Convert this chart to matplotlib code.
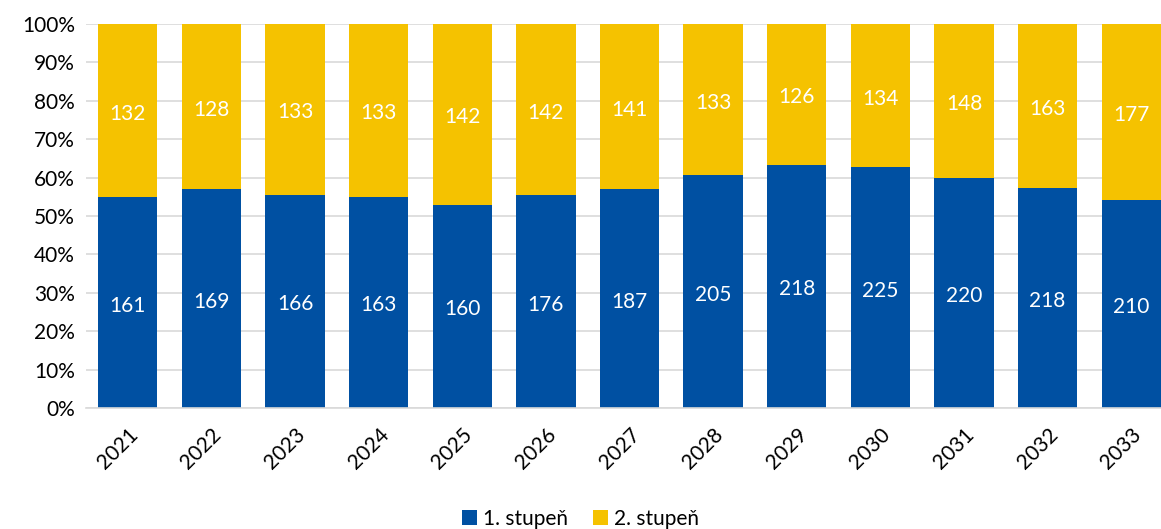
import matplotlib
matplotlib.use("Agg")
import matplotlib.pyplot as plt
import numpy as np

plt.rcParams["font.family"] = ["Lato", "DejaVu Sans"]

years = ["2021", "2022", "2023", "2024", "2025", "2026", "2027",
         "2028", "2029", "2030", "2031", "2032", "2033"]
stupen1 = [161, 169, 166, 163, 160, 176, 187, 205, 218, 225, 220, 218, 210]
stupen2 = [132, 128, 133, 133, 142, 142, 141, 133, 126, 134, 148, 163, 177]

C_BLUE = "#0050A2"
C_YELLOW = "#F5C200"

s1 = np.array(stupen1, dtype=float)
s2 = np.array(stupen2, dtype=float)
tot = s1 + s2
p1 = s1 / tot * 100
p2 = s2 / tot * 100
x = np.arange(len(years))

fig = plt.figure(figsize=(11.61, 5.29), dpi=100)
ax = fig.add_axes([86 / 1161, 1 - 408 / 529, 1087 / 1161, 384 / 529])

b1 = ax.bar(x, p1, width=0.71, color=C_BLUE, label="1. stupeň", zorder=2)
b2 = ax.bar(x, p2, bottom=p1, width=0.71, color=C_YELLOW, label="2. stupeň", zorder=2)

for xi, a, b, va, vb in zip(x, p1, p2, stupen1, stupen2):
    ax.text(xi, a / 2 - 0.8, f"{va}", ha="center", va="center", color="white", fontsize=15)
    ax.text(xi, a + b / 2 - 0.8, f"{vb}", ha="center", va="center", color="white", fontsize=15)

ax.set_xlim(-0.5, len(years) - 0.5)
ax.set_ylim(0, 100)
ax.set_yticks(np.arange(0, 101, 10))
ax.set_yticklabels([f"{v}%" for v in range(0, 101, 10)], fontsize=15)
ax.set_xticks(x)
ax.set_xticklabels(years, rotation=45, ha="right", rotation_mode="anchor", fontsize=15)
ax.tick_params(axis="both", length=0, pad=8)
ax.tick_params(axis="x", pad=12)
ax.grid(axis="y", color="#D9D9D9", lw=1.2, zorder=0)
for s in ["top", "right", "left"]:
    ax.spines[s].set_visible(False)
ax.spines["bottom"].set_color("#D9D9D9")
ax.spines["bottom"].set_linewidth(1.2)

fig.legend(handles=[b1, b2], loc="lower center", bbox_to_anchor=(0.5, -0.035), ncol=2,
           frameon=False, fontsize=15, handlelength=0.7, handleheight=0.7,
           handletextpad=0.3, columnspacing=1.2)

fig.savefig("out.png", dpi=100)
